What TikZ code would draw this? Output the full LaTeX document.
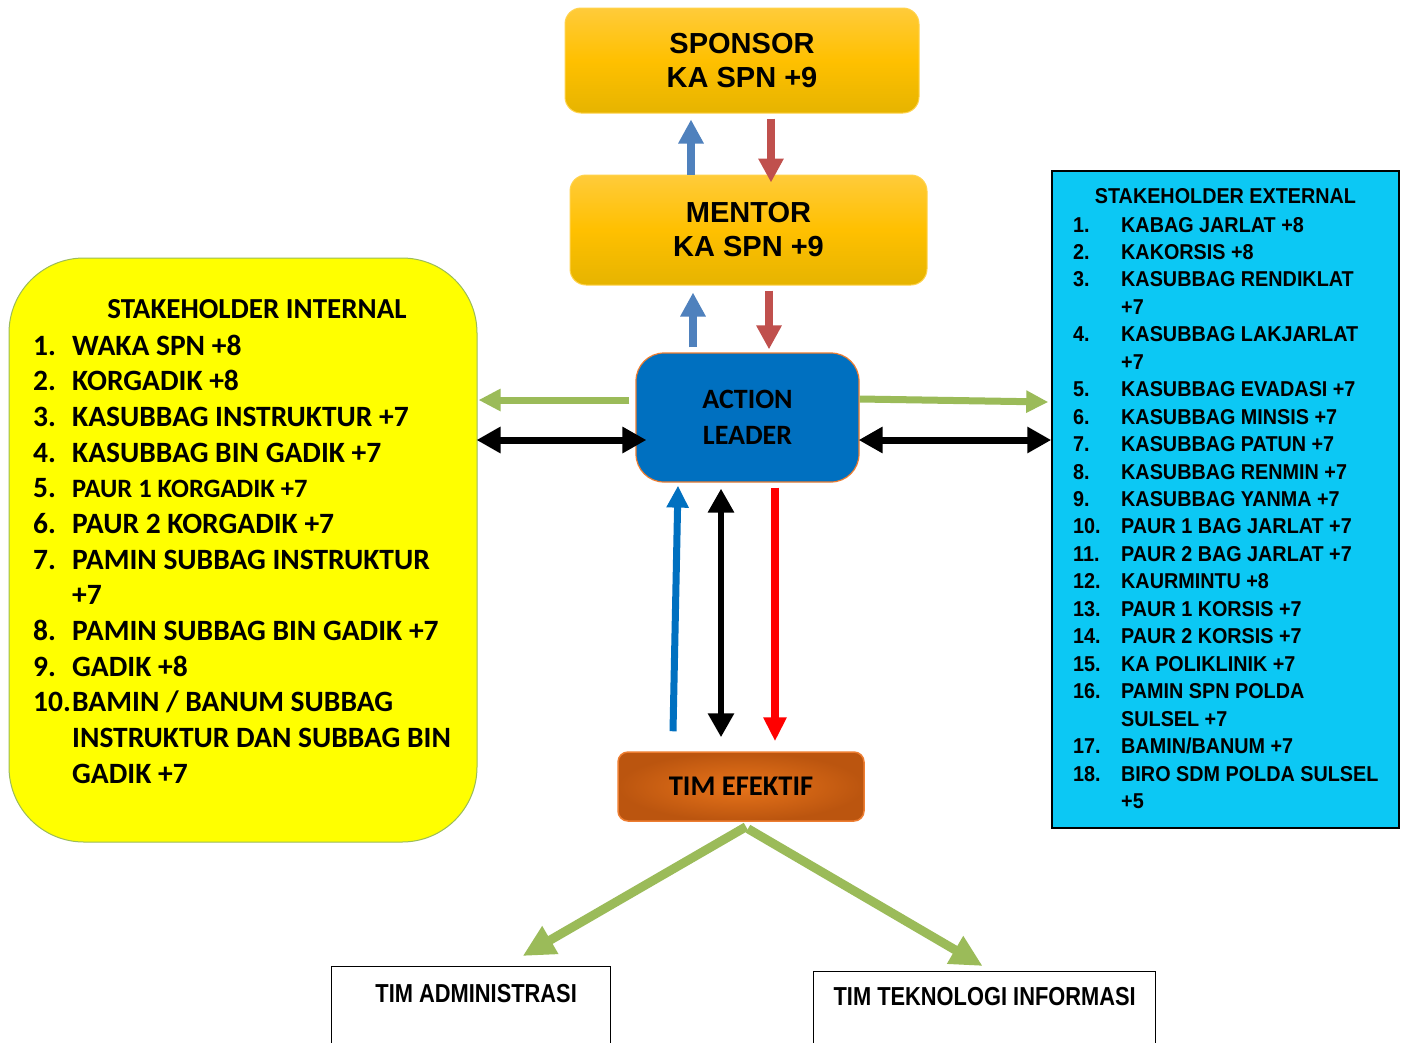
\documentclass[tikz,border=0pt]{standalone}
\usepackage{fontspec}
\setmainfont{Carlito}
\newfontfamily\arialb{Liberation Sans}
\newfontfamily\extfont[FakeStretch=0.92]{Liberation Sans}
\newfontfamily\narrowfont[FakeStretch=0.84]{Liberation Sans}
\usetikzlibrary{arrows.meta}

\definecolor{goldmid}{HTML}{FFC000}
\definecolor{goldtop}{HTML}{FFCB3A}
\definecolor{goldbot}{HTML}{E6B400}
\definecolor{leaderblue}{HTML}{0070C0}
\definecolor{edgeorange}{HTML}{ED7D31}
\definecolor{intyellow}{HTML}{FFFF00}
\definecolor{olivegreen}{HTML}{9BBB59}
\definecolor{extcyan}{HTML}{0CC8F4}
\definecolor{arrblue}{HTML}{4F81BD}
\definecolor{arrred}{HTML}{C0504D}
\definecolor{efinner}{HTML}{E8741A}
\definecolor{efouter}{HTML}{BB550F}

\tikzset{
  goldbox/.style={draw=goldmid!70!white, line width=1pt, rounded corners=16pt,
    top color=goldtop, bottom color=goldbot, middle color=goldmid,
    align=center, inner sep=0pt, font=\arialb\bfseries\fontsize{29}{34}\selectfont},
  leaderbox/.style={draw=edgeorange, line width=1.2pt, fill=leaderblue, rounded corners=28pt,
    align=center, inner sep=0pt, font=\bfseries\fontsize{28}{36}\selectfont},
  intbox/.style={draw=olivegreen, line width=1pt, fill=intyellow, rounded corners=75pt},
  extbox/.style={draw=black, line width=1.5pt, fill=extcyan},
  efbox/.style={draw=edgeorange, line width=1.5pt, rounded corners=10pt,
    inner color=efinner, outer color=efouter, font=\bfseries\fontsize{28.5}{34}\selectfont},
  plainbox/.style={draw=black, line width=1.3pt, fill=white},
  inttext/.style={inner sep=0pt, font=\bfseries\fontsize{29.5}{35}\selectfont},
  exttext/.style={inner sep=0pt, font=\extfont\bfseries\fontsize{21.5}{27}\selectfont},
  teamtext/.style={inner sep=0pt, font=\narrowfont\bfseries\fontsize{26}{30}\selectfont},
  uparr/.style={line width=8pt, -{Triangle[width=24pt,length=24pt]}},
  greenarr/.style={olivegreen, line width=7pt, -{Triangle[width=21pt,length=22pt]}},
  bigarr/.style={olivegreen, line width=9pt, -{Triangle[width=30pt,length=32pt]}},
  twoway/.style={black, line width=7pt, {Triangle[width=25pt,length=24pt]}-{Triangle[width=25pt,length=24pt]}},
}

\begin{document}
\begin{tikzpicture}[x=1pt, y=-1pt]
\useasboundingbox (0,0) rectangle (1405,1042);
\clip (0,0) rectangle (1405,1042);
\fill[white] (0,0) rectangle (1405,1042);

% main boxes
\node[goldbox, minimum width=354pt, minimum height=105pt] (sponsor) at (742,60.5) {SPONSOR\\KA SPN +9};
\node[goldbox, minimum width=357pt, minimum height=110pt] (mentor) at (748.5,230) {MENTOR\\KA SPN +9};
\node[leaderbox, minimum width=223pt, minimum height=129pt] (leader) at (747.5,417.5) {ACTION\\LEADER};
\node[efbox, minimum width=246pt, minimum height=69pt] (timef) at (741,786.5) {TIM EFEKTIF};
\node[intbox, minimum width=468pt, minimum height=584pt] (internal) at (243,550) {};
\node[extbox, minimum width=347pt, minimum height=657pt] (external) at (1225.5,499.5) {};
\node[plainbox, anchor=north west, minimum width=279pt, minimum height=110pt] (timadm) at (331,966) {};
\node[plainbox, anchor=north west, minimum width=342pt, minimum height=110pt] (timti) at (813,971) {};

% stakeholder internal
\node[inttext, anchor=base] (inttitle) at (257,318) {\fontsize{29}{34}\selectfont STAKEHOLDER INTERNAL};
\foreach \n/\t [count=\i] in {1./WAKA SPN +8, 2./KORGADIK +8, 3./KASUBBAG INSTRUKTUR +7,
  4./KASUBBAG BIN GADIK +7, 5./{\fontsize{26.5}{30}\selectfont PAUR 1 KORGADIK +7},
  6./PAUR 2 KORGADIK +7, 7./PAMIN SUBBAG INSTRUKTUR, /+7, 8./PAMIN SUBBAG BIN GADIK +7,
  9./GADIK +8, 10./{BAMIN / BANUM SUBBAG}, /INSTRUKTUR DAN SUBBAG BIN, /GADIK +7}
{
  \node[inttext, anchor=base west] (inum\i) at (33,{355+(\i-1)*35.67}) {\n};
  \node[inttext, anchor=base west] (itxt\i) at (72,{355+(\i-1)*35.67}) {\t};
}

% stakeholder external
\node[exttext, anchor=base] (exttitle) at (1225.5,203) {STAKEHOLDER EXTERNAL};
\foreach \n/\t [count=\i] in {1./KABAG JARLAT +8, 2./KAKORSIS +8, 3./KASUBBAG RENDIKLAT, /+7,
  4./KASUBBAG LAKJARLAT, /+7, 5./KASUBBAG EVADASI +7, 6./KASUBBAG MINSIS +7,
  7./KASUBBAG PATUN +7, 8./KASUBBAG RENMIN +7, 9./KASUBBAG YANMA +7,
  10./PAUR 1 BAG JARLAT +7, 11./PAUR 2 BAG JARLAT +7, 12./KAURMINTU +8,
  13./PAUR 1 KORSIS +7, 14./PAUR 2 KORSIS +7, 15./KA POLIKLINIK +7,
  16./PAMIN SPN POLDA, /SULSEL +7, 17./{BAMIN/BANUM +7}, 18./BIRO SDM POLDA SULSEL, /+5}
{
  \node[exttext, anchor=base west] (enum\i) at (1073,{232+(\i-1)*27.45}) {\n};
  \node[exttext, anchor=base west] (etxt\i) at (1121,{232+(\i-1)*27.45}) {\t};
}

% teams
\node[teamtext, anchor=base] (admtext) at ([xshift=5pt,yshift=-36pt]timadm.north) {TIM ADMINISTRASI};
\node[teamtext, anchor=base] (titext) at ([yshift=-34pt]timti.north) {TIM TEKNOLOGI INFORMASI};

% sponsor - mentor - leader
\draw[uparr, arrblue] ([xshift=-57.5pt]mentor.north) -- ([xshift=-51pt,yshift=-6pt]sponsor.south);
\draw[uparr, arrred] ([xshift=29pt,yshift=-5pt]sponsor.south) -- ([xshift=22.5pt,yshift=-8pt]mentor.north);
\draw[uparr, arrblue] ([xshift=-54.5pt,yshift=5pt]leader.north) -- ([xshift=-55.5pt,yshift=-7pt]mentor.south);
\draw[uparr, arrred] ([xshift=20.5pt,yshift=-5pt]mentor.south) -- ([xshift=21.5pt,yshift=3pt]leader.north);

% leader - stakeholders
\draw[greenarr] ([xshift=-6pt,yshift=17.5pt]leader.west) -- ([xshift=1pt,yshift=150pt]internal.east);
\draw[greenarr] ([yshift=18.5pt]leader.east) -- ([xshift=-3pt,yshift=97.5pt]external.west);
\draw[twoway] ([xshift=-1pt,yshift=110pt]internal.east) -- ([xshift=11pt,yshift=-22.5pt]leader.west);
\draw[twoway] ([xshift=-1pt,yshift=-22.5pt]leader.east) -- ([yshift=59.5pt]external.west);

% leader - tim efektif
\draw[leaderblue, line width=7pt, -{Triangle[width=21pt,length=22pt]}] ([xshift=-68pt,yshift=20pt]timef.north) -- ([xshift=-69.5pt,yshift=-3pt]leader.south);
\draw[twoway, line width=6pt] ([xshift=-26.5pt,yshift=-6pt]leader.south) -- ([xshift=-20pt,yshift=14pt]timef.north);
\draw[red, line width=8pt, -{Triangle[width=22pt,length=24pt]}] ([xshift=27.5pt,yshift=-5pt]leader.south) -- ([xshift=34pt,yshift=10pt]timef.north);

% tim efektif - teams
\draw[bigarr] ([xshift=5pt,yshift=-5pt]timef.south) -- ([xshift=51.5pt,yshift=10pt]timadm.north);
\draw[bigarr] ([xshift=7pt,yshift=-7pt]timef.south) -- ([xshift=-2pt,yshift=5pt]timti.north);
\end{tikzpicture}
\end{document}
